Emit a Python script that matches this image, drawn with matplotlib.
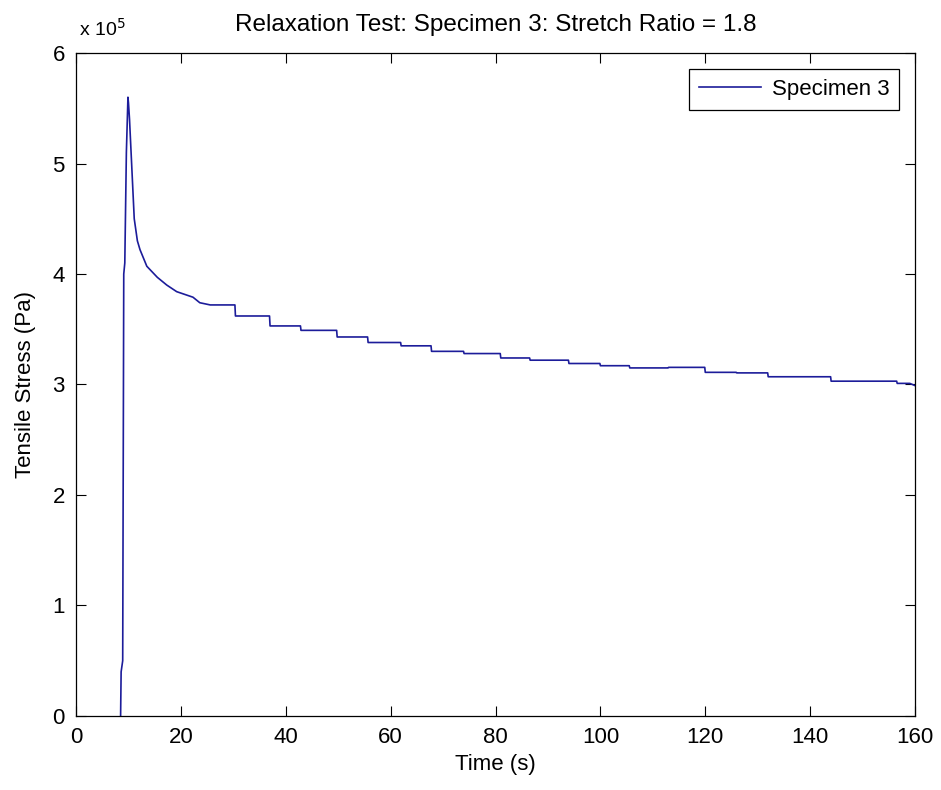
import matplotlib
matplotlib.use('Agg')
import matplotlib.pyplot as plt
from matplotlib.ticker import FuncFormatter

# time (s) and tensile stress (Pa)
time_s = [8.5, 8.6, 8.9, 9.1, 9.3, 9.6, 9.9, 10.0, 10.2, 10.4, 10.8, 11.1, 11.7, 12.2,
          13.5, 15.5, 17.3, 19.2, 22.3, 23.6, 25.6, 30.3,
          30.4, 36.9, 37.0, 42.8, 42.9, 49.7, 49.8, 55.6, 55.7, 61.9, 62.0, 67.7,
          67.8, 73.9, 74.0, 80.9, 81.0, 86.5, 86.6, 93.9, 94.0, 99.9, 100.0, 105.5,
          105.6, 112.9, 113.0, 119.9, 120.0, 125.9, 126.0, 131.9, 132.0, 143.9,
          144.0, 156.5, 156.6, 159.0, 160.0]
stress_pa = [0, 0.4e5, 0.5e5, 4.0e5, 4.1e5, 5.1e5, 5.6e5, 5.55e5, 5.4e5, 5.2e5, 4.8e5,
             4.5e5, 4.3e5, 4.22e5, 4.07e5, 3.97e5, 3.90e5, 3.84e5, 3.79e5, 3.74e5,
             3.72e5, 3.72e5,
             3.62e5, 3.62e5, 3.53e5, 3.53e5, 3.49e5, 3.49e5, 3.43e5, 3.43e5, 3.38e5,
             3.38e5, 3.35e5, 3.35e5, 3.30e5, 3.30e5, 3.28e5, 3.28e5, 3.24e5, 3.24e5,
             3.22e5, 3.22e5, 3.19e5, 3.19e5, 3.17e5, 3.17e5, 3.15e5, 3.15e5, 3.155e5,
             3.155e5, 3.11e5, 3.11e5, 3.105e5, 3.105e5, 3.07e5, 3.07e5, 3.03e5,
             3.03e5, 3.01e5, 3.01e5, 2.99e5]

plt.rcParams['font.family'] = ['Liberation Sans', 'DejaVu Sans']

fig = plt.figure(figsize=(9.41, 7.90), dpi=100)
ax = fig.add_axes([0.0808, 0.0937, 0.8916, 0.8392])

ax.plot(time_s, stress_pa, color='#1c1c9a', lw=1.2, label='Specimen 3')

ax.set_xlim(0, 160)
ax.set_ylim(0, 6e5)
ax.set_xticks(range(0, 161, 20))
ax.set_yticks([i * 1e5 for i in range(7)])
ax.yaxis.set_major_formatter(FuncFormatter(lambda v, p: f'{v / 1e5:g}'))
ax.tick_params(direction='in', length=7, width=0.8, top=True, right=True,
               labelsize=16, pad=8)
for s in ax.spines.values():
    s.set_linewidth(0.9)

ax.text(0.003, 1.02, r'x 10$^5$', transform=ax.transAxes, fontsize=14,
        ha='left', va='bottom')

ax.set_title('Relaxation Test: Specimen 3: Stretch Ratio = 1.8', fontsize=17.5, pad=16)
ax.set_xlabel('Time (s)', fontsize=16, labelpad=4)
ax.set_ylabel('Tensile Stress (Pa)', fontsize=16, labelpad=12)

leg = ax.legend(loc='upper right', fontsize=16, fancybox=False, framealpha=1,
                edgecolor='black', handlelength=2.8, handletextpad=0.5,
                borderpad=0.45, borderaxespad=0.7)
leg.get_frame().set_linewidth(0.9)

fig.savefig('out.png', dpi=100)
